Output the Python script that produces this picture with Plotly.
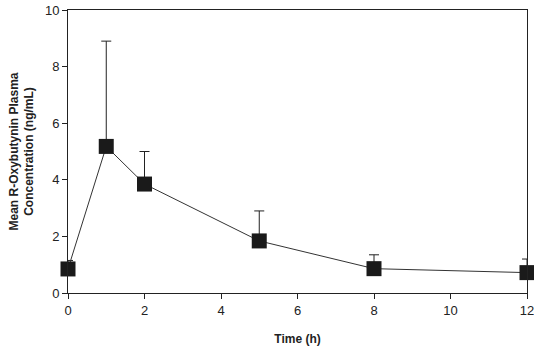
import plotly.graph_objects as go

time_h = [0, 1, 2, 5, 8, 12]
mean_conc = [0.85, 5.18, 3.85, 1.84, 0.86, 0.72]
upper_sd = [1.15, 8.9, 5.0, 2.9, 1.35, 1.2]
err_plus = [u - m for u, m in zip(upper_sd, mean_conc)]

font_family = "Liberation Sans Narrow, Arial Narrow, Liberation Sans, Arial, sans-serif"

fig = go.Figure()
fig.add_trace(go.Scatter(
    x=time_h, y=mean_conc, mode="lines+markers",
    line=dict(color="#333333", width=1),
    marker=dict(symbol="square", size=15, color="#1a1a1a"),
    error_y=dict(type="data", symmetric=False, array=err_plus, arrayminus=[0]*len(time_h),
                 color="#222222", thickness=1, width=5),
    cliponaxis=False,
))

fig.update_layout(
    width=534, height=351,
    margin=dict(l=68, r=7, t=10, b=58),
    paper_bgcolor="white", plot_bgcolor="white",
    showlegend=False,
    font=dict(family=font_family, size=13, color="#222222"),
)
fig.update_xaxes(
    range=[0, 12], tickvals=[0, 2, 4, 6, 8, 10, 12], automargin=False,
    ticklabeloverflow="allow",
    showgrid=False, zeroline=False, showline=True, linecolor="#222222", linewidth=1,
    mirror=True, ticks="outside", ticklen=5, tickcolor="#222222",
    title=dict(text="<b>Time (h)</b>", font=dict(size=12), standoff=18),
)
fig.update_yaxes(
    range=[0, 10], tickvals=[0, 2, 4, 6, 8, 10], automargin=False,
    showgrid=False, zeroline=False, showline=True, linecolor="#222222", linewidth=1,
    mirror=True, ticks="outside", ticklen=5, tickcolor="#222222",
    title=dict(text="<b>Mean R-Oxybutynin Plasma<br>Concentration (ng/mL)</b>", font=dict(size=12), standoff=8),
)

fig.write_html("out.html")
